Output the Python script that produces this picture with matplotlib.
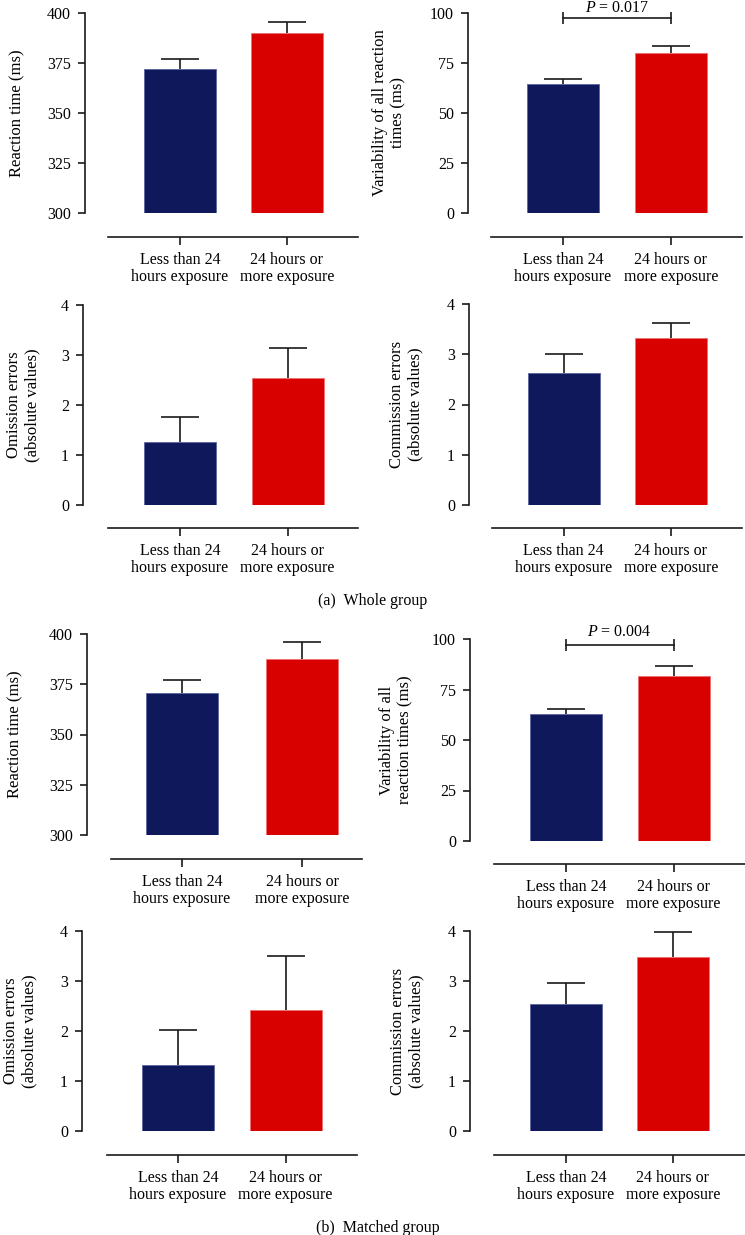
import matplotlib
matplotlib.use("Agg")
import matplotlib.pyplot as plt

plt.rcParams['font.family'] = ['Liberation Serif', 'DejaVu Serif']
plt.rcParams['mathtext.fontset'] = 'custom'
plt.rcParams['mathtext.rm'] = 'Liberation Serif'
plt.rcParams['mathtext.it'] = 'Liberation Serif:italic'

# ---------------- data ----------------
categories = ["Less than 24\nhours exposure", "24 hours or\nmore exposure"]
bar_colors = ["#0E185A", "#D90000"]

# Whole group
rt_whole = [372, 390]
rt_whole_top = [377, 395.3]
var_whole = [64.5, 80]
var_whole_top = [67, 83.5]
om_whole = [1.26, 2.55]
om_whole_top = [1.77, 3.14]
com_whole = [2.63, 3.33]
com_whole_top = [3.01, 3.62]

# Matched group
rt_matched = [370.6, 387.4]
rt_matched_top = [377, 396]
var_matched = [62.7, 81.5]
var_matched_top = [65.4, 86.4]
om_matched = [1.33, 2.43]
om_matched_top = [2.02, 3.51]
com_matched = [2.54, 3.48]
com_matched_top = [2.96, 3.99]

p_whole = "0.017"
p_matched = "0.004"

ylabels = {
    "rt": "Reaction time (ms)",
    "var_a": "Variability of all reaction\ntimes (ms)",
    "var_b": "Variability of all\nreaction times (ms)",
    "om": "Omission errors\n(absolute values)",
    "com": "Commission errors\n(absolute values)",
}

rt_ticks = [300, 325, 350, 375, 400]
var_ticks = [0, 25, 50, 75, 100]
err_ticks = [0, 1, 2, 3, 4]

# ---------------- layout (pixels) ----------------
W, H = 745, 1235
fig = plt.figure(figsize=(W / 100, H / 100), dpi=100)

FS = 11.5
FS_LAB = 12
LC = "#1a1a1a"

# (left, right, top, bottom, xline_y, xline_left, c0, c1, ylabel_x)
panels = [
    dict(g=(85, 358, 13, 213, 237, 108, 180, 287, 17), vals=rt_whole, tops=rt_whole_top,
         ticks=rt_ticks, ylab=ylabels["rt"], p=None),
    dict(g=(468, 742, 13, 213, 237, 491, 563, 671, 389), vals=var_whole, tops=var_whole_top,
         ticks=var_ticks, ylab=ylabels["var_a"], p=(p_whole, 97.5, 1.5)),
    dict(g=(83, 358, 305, 505, 528, 108, 180, 287.5, 23), vals=om_whole, tops=om_whole_top,
         ticks=err_ticks, ylab=ylabels["om"], p=None),
    dict(g=(469, 742, 304, 505, 528, 492, 563.5, 671, 406), vals=com_whole, tops=com_whole_top,
         ticks=err_ticks, ylab=ylabels["com"], p=None),
    dict(g=(87, 362, 634, 835, 859, 111, 182, 302, 15), vals=rt_matched, tops=rt_matched_top,
         ticks=rt_ticks, ylab=ylabels["rt"], p=None),
    dict(g=(470, 745, 639, 841, 864, 494, 566, 673.5, 396), vals=var_matched, tops=var_matched_top,
         ticks=var_ticks, ylab=ylabels["var_b"], p=(p_matched, 97, 3.5)),
    dict(g=(82, 357, 931, 1131, 1155, 107, 178, 285.5, 20), vals=om_matched, tops=om_matched_top,
         ticks=err_ticks, ylab=ylabels["om"], p=None),
    dict(g=(470, 745, 931, 1131, 1155, 494, 566, 673, 407), vals=com_matched, tops=com_matched_top,
         ticks=err_ticks, ylab=ylabels["com"], p=None),
]

BAR_PX = 72
CAP_PX = 38
for pn in panels:
    left, right, top, bottom, xl_y, xl_left, c0, c1, ylx = pn["g"]
    ax = fig.add_axes([left / W, 1 - bottom / H, (right - left) / W, (bottom - top) / H])
    unit = c1 - c0
    x0 = (left - c0) / unit
    x1 = (right - c0) / unit
    ax.set_xlim(x0, x1)
    ticks = pn["ticks"]
    ax.set_ylim(ticks[0], ticks[-1])
    xs = [0, 1]
    base = ticks[0]
    heights = [v - base for v in pn["vals"]]
    ax.bar(xs, heights, bottom=base, width=BAR_PX / unit, color=bar_colors,
           edgecolor=["#5a64a0", "#f07070"], linewidth=0.6, zorder=2)
    # upward-only error bars with a single cap
    half_cap = CAP_PX / unit / 2
    ax.vlines(xs, pn["vals"], pn["tops"], colors=LC, linewidth=1.2, zorder=3)
    ax.hlines(pn["tops"], [x - half_cap for x in xs], [x + half_cap for x in xs],
              colors=LC, linewidth=1.2, zorder=3)
    for s in ["top", "right"]:
        ax.spines[s].set_visible(False)
    ax.spines["left"].set_linewidth(1.2)
    ax.spines["left"].set_color(LC)
    ax.spines["bottom"].set_linewidth(1.2)
    ax.spines["bottom"].set_color(LC)
    ax.spines["bottom"].set_position(("outward", (xl_y - bottom) * 0.72))
    ax.spines["bottom"].set_bounds((xl_left - c0) / unit, x1)
    ax.set_yticks(ticks)
    ax.set_xticks(xs)
    ax.set_xticklabels(categories, fontsize=FS, linespacing=1.15)
    ax.tick_params(axis="y", labelsize=FS, length=5, width=1.2, color=LC, pad=5)
    ax.tick_params(axis="x", length=5.5, width=1.2, color=LC, pad=5)
    ax.set_ylabel(pn["ylab"], fontsize=FS_LAB, linespacing=1.15)
    ax.yaxis.set_label_coords((ylx - left) / (right - left), 0.5)
    ax.yaxis.label.set_va("center")
    if pn["p"] is not None:
        txt, yb, off = pn["p"]
        ax.plot([0, 1], [yb, yb], color=LC, lw=1.2, clip_on=False, zorder=3)
        ax.plot([0, 1], [yb, yb], linestyle="none", marker="|", markersize=8,
                markeredgewidth=1.2, color=LC, clip_on=False, zorder=3)
        ax.annotate(r"$P$ = " + txt, xy=(0.5, yb), xytext=(0, off), textcoords="offset points",
                    ha="center", va="bottom", fontsize=FS, annotation_clip=False)

fig.text(373 / W, 1 - 601 / H, "(a)  Whole group", ha="center", va="center", fontsize=FS)
fig.text(378 / W, 1 - 1228 / H, "(b)  Matched group", ha="center", va="center", fontsize=FS)

fig.savefig("out.png", dpi=100, facecolor="white")
